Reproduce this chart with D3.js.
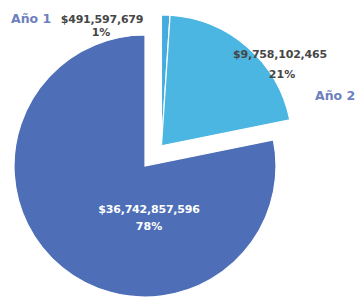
<!DOCTYPE html>
<html>
<head>
<meta charset="utf-8">
<script src="https://cdn.jsdelivr.net/npm/d3@7"></script>
<style>
  html, body { margin: 0; padding: 0; background: #fff; }
  svg { display: block; }
</style>
</head>
<body>
<div id="chart"></div>
<script>
// datos del gráfico
const categories = ['Año 1', 'Año 2', 'Año 3'];
const values = [491597679, 9758102465, 36742857596];
const exploded = [true, true, false];
const showName = [true, true, false];
const colors = ['#45ace0', '#4bb6e2', '#4e6fb7'];

const width = 360;
const height = 299;
const cx = 145, cy = 166, radius = 131;
const explodeDist = 26;

const svg = d3.select('#chart')
    .append('svg')
    .attr('width', width)
    .attr('height', height);

const pie = d3.pie().sort(null).value(d => d);
const arcs = pie(values);
const arc = d3.arc().innerRadius(0).outerRadius(radius);

// las porciones separadas se desplazan juntas a lo largo de su bisectriz común
const exArcs = arcs.filter((a, i) => exploded[i]);
const exMid = (d3.min(exArcs, a => a.startAngle) + d3.max(exArcs, a => a.endAngle)) / 2;
const exDx = Math.sin(exMid) * explodeDist;
const exDy = -Math.cos(exMid) * explodeDist;

const g = svg.append('g').attr('transform', `translate(${cx},${cy})`);

g.selectAll('path')
    .data(arcs)
    .join('path')
    .attr('d', arc)
    .attr('fill', (d, i) => colors[i])
    .attr('stroke', '#fff')
    .attr('stroke-width', 1.2)
    .attr('transform', (d, i) => exploded[i] ? `translate(${exDx},${exDy})` : null);

// etiquetas
const total = d3.sum(values);
const fmtMoney = v => '$' + d3.format(',')(v);
const fmtPct = v => d3.format('.0%')(v / total);

// posiciones de las etiquetas, relativas al centro del gráfico
const labelPos = [
    { name: [-134, -143], value: [-43, -143], pct: [-44, -130], fill: '#474747' },
    { name: [170, -66], value: [135, -108], pct: [137, -88], fill: '#474747' },
    { name: null, value: [4, 47], pct: [4, 64], fill: '#fff' }
];

const valueFont = '"DejaVu Sans", sans-serif';

arcs.forEach((a, i) => {
    const p = labelPos[i];
    if (showName[i] && p.name) {
        g.append('text')
            .attr('x', p.name[0])
            .attr('y', p.name[1])
            .attr('font-family', valueFont)
            .attr('font-weight', 'bold')
            .attr('font-size', 12.5)
            .attr('fill', '#6d7fbe')
            .text(categories[i]);
    }
    g.append('text')
        .attr('x', p.value[0])
        .attr('y', p.value[1])
        .attr('text-anchor', 'middle')
        .attr('font-family', valueFont)
        .attr('font-weight', 'bold')
        .attr('font-size', 11)
        .attr('letter-spacing', -0.2)
        .attr('fill', p.fill)
        .text(fmtMoney(values[i]));
    g.append('text')
        .attr('x', p.pct[0])
        .attr('y', p.pct[1])
        .attr('text-anchor', 'middle')
        .attr('font-family', valueFont)
        .attr('font-weight', 'bold')
        .attr('font-size', 11)
        .attr('fill', p.fill)
        .text(fmtPct(values[i]));
});
</script>
</body>
</html>
